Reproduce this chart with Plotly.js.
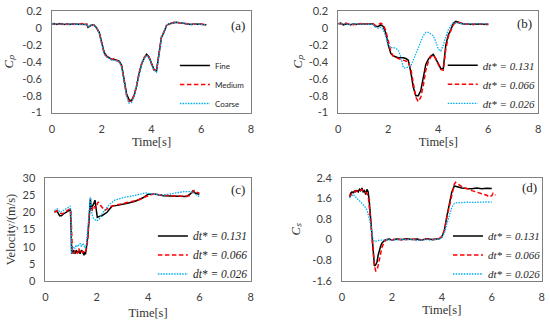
<!DOCTYPE html>
<html><head><meta charset="utf-8">
<script src="https://cdn.plot.ly/plotly-3.0.1.min.js"></script>
<style>html,body{margin:0;padding:0;background:#fff}#chart{width:550px;height:325px}</style>
</head><body><div id="chart"></div>
<script>
// ---------- Panel (a): grid study, Cp ----------
const tA = [0,0.1,0.2,0.3,0.4,0.5,0.6,0.7,0.8,0.9,1.0,1.1,1.2,1.3,1.4,1.45,1.5,1.6,1.7,1.8,1.9,2.0,2.1,2.2,2.3,2.4,2.5,2.6,2.7,2.8,2.9,3.0,3.1,3.2,3.3,3.4,3.5,3.6,3.7,3.8,3.9,4.0,4.1,4.2,4.3,4.4,4.5,4.6,4.7,4.8,4.9,5.0,5.2,5.4,5.6,5.8,6.0,6.2];
const cpFine = [0.05,0.055,0.045,0.055,0.05,0.045,0.05,0.045,0.05,0.05,0.045,0.05,0.05,0.05,0.045,0.01,0.02,0.04,0.035,0.0,-0.05,-0.17,-0.29,-0.33,-0.35,-0.37,-0.37,-0.38,-0.39,-0.44,-0.6,-0.78,-0.85,-0.86,-0.8,-0.69,-0.54,-0.43,-0.36,-0.31,-0.34,-0.42,-0.49,-0.51,-0.3,-0.11,-0.05,0.03,0.05,0.06,0.065,0.07,0.06,0.05,0.045,0.05,0.045,0.04];
const cpMedium = [0.055,0.045,0.055,0.05,0.045,0.055,0.045,0.05,0.055,0.045,0.05,0.045,0.055,0.05,0.05,0.015,0.02,0.04,0.03,0.0,-0.06,-0.18,-0.3,-0.34,-0.36,-0.37,-0.36,-0.38,-0.4,-0.45,-0.62,-0.8,-0.87,-0.86,-0.79,-0.68,-0.53,-0.42,-0.35,-0.31,-0.35,-0.43,-0.5,-0.5,-0.28,-0.1,-0.04,0.03,0.05,0.065,0.07,0.065,0.06,0.05,0.05,0.045,0.05,0.04];
const cpCoarse = [0.05,0.05,0.05,0.05,0.05,0.05,0.05,0.05,0.05,0.05,0.05,0.05,0.05,0.05,0.045,0.015,0.02,0.04,0.035,0.0,-0.06,-0.19,-0.31,-0.34,-0.36,-0.38,-0.38,-0.39,-0.4,-0.46,-0.63,-0.81,-0.89,-0.88,-0.81,-0.69,-0.54,-0.43,-0.36,-0.32,-0.35,-0.43,-0.5,-0.52,-0.3,-0.11,-0.05,0.03,0.05,0.06,0.065,0.07,0.06,0.05,0.045,0.05,0.045,0.04];

// ---------- Panel (b): time-step study, Cp ----------
const tB = [0,0.1,0.2,0.3,0.4,0.5,0.6,0.7,0.8,0.9,1.0,1.1,1.2,1.3,1.4,1.45,1.5,1.6,1.7,1.8,1.9,2.0,2.1,2.2,2.3,2.4,2.5,2.6,2.7,2.8,2.9,3.0,3.1,3.2,3.3,3.4,3.5,3.6,3.7,3.8,3.9,4.0,4.1,4.2,4.3,4.4,4.5,4.6,4.7,4.8,4.9,5.0,5.2,5.4,5.6,5.8,6.0];
const cpDt131 = [0.05,0.06,0.04,0.05,0.045,0.04,0.05,0.045,0.05,0.05,0.05,0.045,0.05,0.05,0.05,0.03,0.02,0.02,0.04,0.02,-0.06,-0.2,-0.3,-0.33,-0.34,-0.35,-0.35,-0.35,-0.36,-0.38,-0.52,-0.7,-0.8,-0.8,-0.74,-0.56,-0.43,-0.37,-0.33,-0.31,-0.36,-0.42,-0.48,-0.48,-0.2,-0.08,-0.02,0.06,0.08,0.07,0.06,0.05,0.05,0.045,0.05,0.05,0.045];
const cpDt066 = [0.06,0.05,0.05,0.06,0.05,0.05,0.04,0.05,0.05,0.055,0.05,0.05,0.045,0.05,0.05,0.04,0.03,0.04,0.06,0.04,-0.03,-0.15,-0.28,-0.33,-0.35,-0.36,-0.37,-0.38,-0.39,-0.4,-0.48,-0.68,-0.82,-0.87,-0.82,-0.68,-0.5,-0.4,-0.34,-0.32,-0.36,-0.43,-0.49,-0.5,-0.25,-0.1,-0.03,0.04,0.07,0.07,0.06,0.05,0.05,0.05,0.045,0.05,0.05];
const cpDt026 = [0.05,0.05,0.055,0.05,0.045,0.05,0.05,0.05,0.05,0.05,0.05,0.05,0.05,0.05,0.045,0.02,0.01,0.0,0.01,-0.02,-0.1,-0.2,-0.23,-0.23,-0.24,-0.26,-0.34,-0.47,-0.47,-0.46,-0.45,-0.38,-0.3,-0.22,-0.16,-0.09,-0.05,-0.05,-0.07,-0.09,-0.16,-0.25,-0.27,-0.2,-0.1,-0.02,0.03,0.06,0.06,0.06,0.055,0.05,0.05,0.05,0.05,0.045,0.05];

// ---------- Panel (c): velocity ----------
const tC131 = [0.35,0.45,0.55,0.62,0.7,0.8,0.9,0.97,1.0,1.02,1.05,1.1,1.15,1.2,1.25,1.3,1.35,1.4,1.45,1.5,1.53,1.56,1.6,1.65,1.7,1.75,1.78,1.82,1.88,1.93,1.97,2.02,2.1,2.2,2.4,2.6,2.8,3.0,3.2,3.5,3.8,4.0,4.3,4.6,5.0,5.3,5.5,5.65,5.75,5.85,6.0];
const vDt131 = [20.2,20.3,19.0,19.0,19.5,20.0,20.5,20.8,15.0,8.0,8.5,9.0,8.0,9.0,8.2,8.8,8.0,9.0,8.5,7.5,8.5,7.8,10.0,13.0,18.0,24.0,21.0,21.5,22.5,23.5,21.0,18.5,18.8,19.0,20.0,21.8,22.0,22.2,22.6,23.2,24.2,25.2,25.2,24.8,24.7,24.5,24.6,25.3,26.2,25.5,25.2];
const tC066 = [0.35,0.45,0.55,0.65,0.75,0.85,0.95,0.99,1.02,1.05,1.1,1.15,1.2,1.25,1.3,1.35,1.4,1.45,1.5,1.55,1.6,1.65,1.7,1.75,1.8,1.85,1.9,1.95,2.0,2.05,2.1,2.2,2.3,2.4,2.5,2.7,3.0,3.3,3.6,3.9,4.2,4.5,4.8,5.1,5.4,5.6,5.7,5.8,5.9,6.0];
const vDt066 = [20.0,20.5,19.8,19.5,20.0,20.5,21.0,20.5,9.0,8.5,8.0,9.0,8.5,8.0,9.5,8.5,9.0,8.2,9.0,8.5,9.5,12.0,19.0,21.0,20.0,21.5,22.0,21.0,22.0,23.0,22.5,21.5,20.5,21.0,21.5,22.0,22.5,23.0,23.5,24.5,25.3,25.0,24.8,24.7,24.6,24.8,25.5,26.3,25.8,25.5];
const tC026 = [0.35,0.45,0.5,0.6,0.7,0.8,0.9,0.97,1.0,1.02,1.05,1.1,1.15,1.2,1.25,1.3,1.35,1.4,1.45,1.5,1.55,1.6,1.65,1.7,1.75,1.8,1.85,1.9,2.0,2.1,2.2,2.3,2.4,2.5,2.7,3.0,3.3,3.6,3.9,4.2,4.5,4.8,5.1,5.4,5.6,5.75,5.9,6.0];
const vDt026 = [20.5,21.0,20.5,20.0,20.5,21.0,21.5,21.8,16.0,8.0,9.5,10.0,9.5,10.5,10.0,10.5,11.0,10.0,11.0,10.5,9.5,11.0,16.0,22.0,24.5,20.0,18.5,18.0,17.5,18.0,19.5,20.5,21.5,22.3,23.5,24.2,24.6,25.1,25.6,25.3,25.0,25.2,25.6,26.0,26.0,25.8,25.0,24.5];

// ---------- Panel (d): Cs ----------
const tD131 = [0.3,0.35,0.4,0.45,0.5,0.55,0.6,0.65,0.7,0.75,0.8,0.85,0.9,0.95,1.0,1.05,1.1,1.15,1.2,1.25,1.3,1.35,1.4,1.45,1.5,1.55,1.6,1.7,1.8,1.9,2.0,2.2,2.4,2.6,2.8,3.0,3.2,3.4,3.6,3.8,3.9,4.0,4.1,4.2,4.3,4.4,4.5,4.6,4.7,4.8,5.0,5.2,5.4,5.6,5.8,6.0];
const csDt131 = [1.65,1.8,1.85,1.82,1.88,1.85,1.9,1.85,1.95,1.9,2.0,1.85,1.9,1.75,1.95,1.85,1.4,0.8,0.2,-0.5,-1.02,-0.98,-0.88,-0.6,-0.4,-0.25,-0.14,-0.03,0.0,0.02,-0.02,0.02,0.0,0.03,0.0,0.02,-0.02,0.03,0.0,0.02,0.03,0.1,0.35,0.9,1.4,1.85,2.08,2.05,2.0,2.0,1.98,1.97,2.0,1.97,1.99,1.98];
const tD066 = [0.3,0.35,0.4,0.45,0.5,0.55,0.6,0.65,0.7,0.75,0.8,0.85,0.9,0.95,1.0,1.05,1.1,1.15,1.2,1.25,1.3,1.35,1.4,1.45,1.5,1.55,1.6,1.7,1.8,1.9,2.0,2.2,2.4,2.6,2.8,3.0,3.2,3.4,3.6,3.8,3.9,4.0,4.1,4.2,4.3,4.4,4.5,4.55,4.6,4.7,4.8,4.9,5.0,5.2,5.4,5.6,5.8,5.9,6.0,6.05,6.1,6.15];
const csDt066 = [1.65,1.75,1.8,1.85,1.85,1.9,1.88,1.9,1.92,1.9,1.95,1.88,1.85,1.8,1.8,1.7,1.3,0.7,0.1,-0.5,-1.0,-1.22,-1.2,-1.0,-0.8,-0.55,-0.3,-0.08,0.0,-0.02,0.0,0.02,-0.02,0.0,0.02,-0.03,0.0,0.02,-0.02,0.03,0.05,0.12,0.35,0.85,1.3,1.8,2.15,2.22,2.18,2.1,2.05,2.0,1.98,1.9,1.85,1.78,1.72,1.65,1.7,1.8,1.75,1.72];
const tD026 = [0.3,0.4,0.45,0.5,0.6,0.7,0.8,0.9,1.0,1.05,1.1,1.15,1.2,1.25,1.3,1.35,1.4,1.5,1.6,1.8,2.0,2.2,2.4,2.6,2.8,3.0,3.2,3.4,3.6,3.8,3.9,4.0,4.1,4.2,4.3,4.4,4.5,4.6,4.8,5.0,5.2,5.4,5.6,5.8,6.0];
const csDt026 = [1.62,1.7,1.75,1.7,1.6,1.5,1.42,1.3,1.15,1.0,0.8,0.55,0.25,0.0,-0.08,-0.06,-0.05,-0.03,-0.02,-0.02,0.0,-0.02,0.0,-0.02,0.0,-0.03,-0.02,0.0,-0.02,0.0,0.02,0.08,0.25,0.6,0.95,1.25,1.4,1.43,1.43,1.45,1.44,1.45,1.44,1.46,1.45];

// ---------- labels / ticks ----------
const gridNames = ['Fine','Medium','Coarse'];
const dtValues = ['0.131','0.066','0.026'];
const panelLabels = ['(a)','(b)','(c)','(d)'];
const xTickVals = [0,2,4,6,8];
const xTickText = ['0','2','4','6','8'];
const cpTickVals = [-1,-0.8,-0.6,-0.4,-0.2,0,0.2];
const cpTickText = ['-1','-0.8','-0.6','-0.4','-0.2','0','0.2'];
const velTickVals = [0,5,10,15,20,25,30];
const velTickText = ['0','5','10','15','20','25','30'];
const csTickVals = [-1.6,-0.8,0,0.8,1.6,2.4];
const csTickText = ['-1.6','-0.8','0','0.8','1.6','2.4'];

// ---------- styles ----------
const styles = [
  {color:'#000000', width:1.5, dash:'solid'},
  {color:'#ff0000', width:1.5, dash:'4.5px,2.5px'},
  {color:'#00b0f0', width:1.3, dash:'1.5px,1.2px'}
];
const serif = 'Liberation Serif, Times New Roman, serif';
const sans = 'Lato, Open Sans, sans-serif';
const dtLabel = v => '<i>dt* = ' + v + '</i>';

const traces = [];
function add(x, y, i, name, xa, ya, leg) {
  traces.push({x:x, y:y, type:'scatter', mode:'lines', name:name,
    xaxis:xa, yaxis:ya, legend:leg,
    line:{color:styles[i].color, width:styles[i].width, dash:styles[i].dash}});
}
add(tA, cpFine, 0, gridNames[0], 'x', 'y', 'legend');
add(tA, cpMedium, 1, gridNames[1], 'x', 'y', 'legend');
add(tA, cpCoarse, 2, gridNames[2], 'x', 'y', 'legend');
add(tB, cpDt131, 0, dtLabel(dtValues[0]), 'x2', 'y2', 'legend2');
add(tB, cpDt066, 1, dtLabel(dtValues[1]), 'x2', 'y2', 'legend2');
add(tB, cpDt026, 2, dtLabel(dtValues[2]), 'x2', 'y2', 'legend2');
add(tC131, vDt131, 0, dtLabel(dtValues[0]), 'x3', 'y3', 'legend3');
add(tC066, vDt066, 1, dtLabel(dtValues[1]), 'x3', 'y3', 'legend3');
add(tC026, vDt026, 2, dtLabel(dtValues[2]), 'x3', 'y3', 'legend3');
add(tD131, csDt131, 0, dtLabel(dtValues[0]), 'x4', 'y4', 'legend4');
add(tD066, csDt066, 1, dtLabel(dtValues[1]), 'x4', 'y4', 'legend4');
add(tD026, csDt026, 2, dtLabel(dtValues[2]), 'x4', 'y4', 'legend4');

const frame = {showgrid:false, zeroline:false, showline:true, mirror:true,
  linecolor:'#7f7f7f', linewidth:1, ticks:'', fixedrange:true,
  tickfont:{family:sans, size:11, color:'#404040'}};

function xAxis(domain, anchor, standoff) {
  return Object.assign({}, frame, {domain:domain, anchor:anchor, range:[0,8],
    tickmode:'array', tickvals:xTickVals, ticktext:xTickText, ticklabelstandoff:6,
    title:{text:'Time[s]', font:{family:serif, size:12.5, color:'#333333'}, standoff:standoff}});
}
function yAxis(domain, anchor, range, tv, tt, title, standoff) {
  return Object.assign({}, frame, {domain:domain, anchor:anchor, range:range,
    tickmode:'array', tickvals:tv, ticktext:tt, ticklabelstandoff:7,
    title:{text:title, font:{family:serif, size:12.5, color:'#333333'}, standoff:standoff}});
}
function legend(x, y, size) {
  return {x:x, y:y, xanchor:'left', yanchor:'middle', bgcolor:'rgba(0,0,0,0)',
    borderwidth:0, itemwidth:30, tracegroupgap:0,
    font:{family: size < 9 ? sans : serif, size:size, color:'#262626'}};
}

const layout = {
  width:550, height:325, margin:{l:0, r:0, t:0, b:0},
  paper_bgcolor:'#ffffff', plot_bgcolor:'#ffffff', showlegend:true,
  xaxis: xAxis([0.0945,0.4564], 'y', 3),
  yaxis: yAxis([0.6538,0.9652], 'x', [-1,0.2], cpTickVals, cpTickText, '<i>C\u209A</i>', 5),
  xaxis2: xAxis([0.6151,0.9787], 'y2', 3),
  yaxis2: yAxis([0.6538,0.9652], 'x2', [-1,0.2], cpTickVals, cpTickText, '<i>C\u209A</i>', 3),
  xaxis3: xAxis([0.0827,0.4558], 'y3', 5),
  yaxis3: yAxis([0.1348,0.4529], 'x3', [0,30], velTickVals, velTickText, 'Velocity/(m/s)', 4),
  xaxis4: xAxis([0.6218,0.9849], 'y4', 0),
  yaxis4: yAxis([0.136,0.4532], 'x4', [-1.6,2.4], csTickVals, csTickText, '<i>C\u209B</i>', 8),
  legend: legend(0.318, 0.74, 8),
  legend2: legend(0.805, 0.7406, 11),
  legend3: legend(0.278, 0.2154, 11.5),
  legend4: legend(0.8145, 0.2154, 11),
  annotations: [
    {text:panelLabels[0], x:0.4327, y:0.923},
    {text:panelLabels[1], x:0.9545, y:0.929},
    {text:panelLabels[2], x:0.4327, y:0.4154},
    {text:panelLabels[3], x:0.9636, y:0.4246}
  ].map(a => Object.assign(a, {xref:'paper', yref:'paper', showarrow:false,
    xanchor:'center', yanchor:'middle', font:{family:serif, size:13, color:'#262626'}}))
};

Plotly.newPlot('chart', traces, layout, {staticPlot:true, displayModeBar:false});
</script>
</body></html>
